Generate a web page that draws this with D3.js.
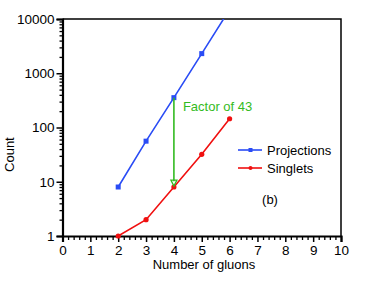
<!DOCTYPE html>
<html>
<head>
<meta charset="utf-8">
<script src="https://cdn.jsdelivr.net/npm/d3@7"></script>
<style>
  body { margin: 0; background: #fff; }
  text { font-family: "Liberation Sans", Arial, sans-serif; }
</style>
</head>
<body>
<div id="chart"></div>
<script>
// Data
var gluons      = [2, 3, 4, 5, 6];
var projections = [8, 56, 355, 2300, 15000];
var singlets    = [1, 2, 8, 32, 145];
var xTicks = [0, 1, 2, 3, 4, 5, 6, 7, 8, 9, 10];
var yTicks = [1, 10, 100, 1000, 10000];
var factorX = 4, factorTop = 355, factorBottom = 8.3;

var width = 374, height = 289;
var margin = {top: 19, right: 33, bottom: 53, left: 62.5};

var svg = d3.select('#chart').append('svg')
    .attr('width', width)
    .attr('height', height);

var x = d3.scaleLinear().domain([0, 10]).range([margin.left, width - margin.right]);
var y = d3.scaleLog().domain([1, 10000]).range([height - margin.bottom, margin.top]);

svg.append('clipPath').attr('id', 'clip')
  .append('rect')
    .attr('x', margin.left).attr('y', margin.top)
    .attr('width', x(10) - x(0)).attr('height', y(1) - y(10000));

// Frame (top and right)
svg.append('path')
    .attr('d', 'M' + x(0) + ',' + y(10000) + 'H' + x(10) + 'V' + y(1))
    .attr('fill', 'none')
    .attr('stroke', '#000')
    .attr('stroke-width', 1.5);

// Y axis with log minor ticks
var yMinor = [];
yTicks.slice(0, -1).forEach(function(d) {
  for (var k = 2; k <= 9; k++) yMinor.push(d * k);
});
var yAxis = svg.append('g').attr('transform', 'translate(' + x(0) + ',0)');
yAxis.append('g')
    .call(d3.axisLeft(y).tickValues(yMinor).tickSize(3).tickFormat(''))
    .call(function(g) { g.select('.domain').remove(); })
    .selectAll('line').attr('stroke-width', 1.3);
yAxis.append('g')
    .call(d3.axisLeft(y).tickValues(yTicks).tickSize(6).tickPadding(2).tickFormat(d3.format('d')))
    .call(function(g) {
      g.select('.domain').attr('stroke-width', 2.2);
      g.selectAll('line').attr('stroke-width', 1.5);
      g.selectAll('text').attr('font-size', 13.5).attr('fill', '#000');
    });

// X axis with minor ticks
var xMinor = d3.range(0, 10.01, 0.2).filter(function(d) { return Math.abs(d - Math.round(d)) > 0.01; });
var xAxis = svg.append('g').attr('transform', 'translate(0,' + y(1) + ')');
xAxis.append('g')
    .call(d3.axisBottom(x).tickValues(xMinor).tickSize(4).tickFormat(''))
    .call(function(g) { g.select('.domain').remove(); })
    .selectAll('line').attr('stroke-width', 1.3);
xAxis.append('g')
    .call(d3.axisBottom(x).tickValues(xTicks).tickSize(6).tickPadding(3).tickFormat(d3.format('d')))
    .call(function(g) {
      g.select('.domain').attr('stroke-width', 2.2);
      g.selectAll('line').attr('stroke-width', 1.5);
      g.selectAll('text').attr('font-size', 13.5).attr('fill', '#000');
    });

// Axis titles
svg.append('text')
    .attr('transform', 'translate(14,' + (y(10) + y(100)) / 2 + ') rotate(-90)')
    .attr('text-anchor', 'middle')
    .attr('font-size', 13)
    .text('Count');
svg.append('text')
    .attr('x', 204)
    .attr('y', 269)
    .attr('text-anchor', 'middle')
    .attr('font-size', 13)
    .text('Number of gluons');

// Series
var line = function(vals) {
  return d3.line()
    .x(function(d, i) { return x(gluons[i]); })
    .y(function(d) { return y(d); })(vals);
};
var plot = svg.append('g').attr('clip-path', 'url(#clip)');

plot.append('path')
    .attr('d', line(projections))
    .attr('fill', 'none')
    .attr('stroke', '#2a4cf5')
    .attr('stroke-width', 1.6);
plot.selectAll('.proj').data(projections).enter().append('rect')
    .attr('x', function(d, i) { return x(gluons[i]) - 2.5; })
    .attr('y', function(d) { return y(d) - 2.5; })
    .attr('width', 5).attr('height', 5)
    .attr('fill', '#2a4cf5');

plot.append('path')
    .attr('d', line(singlets))
    .attr('fill', 'none')
    .attr('stroke', '#f01010')
    .attr('stroke-width', 1.6);
svg.selectAll('.sing').data(singlets).enter().append('circle')
    .attr('cx', function(d, i) { return x(gluons[i]); })
    .attr('cy', function(d) { return y(d); })
    .attr('r', 2.6)
    .attr('fill', '#f01010');

// Factor arrow
var green = '#33bb22';
svg.append('line')
    .attr('x1', x(factorX)).attr('x2', x(factorX))
    .attr('y1', y(factorTop)).attr('y2', y(factorBottom) - 5)
    .attr('stroke', green).attr('stroke-width', 1.6);
var ax = x(factorX), ay = y(factorBottom);
svg.append('path')
    .attr('d', 'M' + (ax - 3) + ',' + (ay - 6) + 'L' + (ax + 3) + ',' + (ay - 6) + 'L' + ax + ',' + ay + 'Z')
    .attr('fill', 'none')
    .attr('stroke', green)
    .attr('stroke-width', 1.3);
svg.append('text')
    .attr('x', x(factorX) + 9)
    .attr('y', 111)
    .attr('font-size', 13)
    .attr('fill', green)
    .text('Factor of 43');

// Legend
var legend = [
  {name: 'Projections', color: '#2a4cf5', shape: 'square'},
  {name: 'Singlets', color: '#f01010', shape: 'circle'}
];
var lg = svg.selectAll('.lg').data(legend).enter().append('g')
    .attr('transform', function(d, i) { return 'translate(238,' + (150 + i * 18) + ')'; });
lg.append('line')
    .attr('x1', 0).attr('x2', 24)
    .attr('stroke', function(d) { return d.color; })
    .attr('stroke-width', 1.6);
lg.filter(function(d) { return d.shape === 'square'; }).append('rect')
    .attr('x', 10.5).attr('y', -2).attr('width', 4).attr('height', 4)
    .attr('fill', function(d) { return d.color; });
lg.filter(function(d) { return d.shape === 'circle'; }).append('circle')
    .attr('cx', 12.5).attr('r', 2)
    .attr('fill', function(d) { return d.color; });
lg.append('text')
    .attr('x', 29).attr('y', 4.5)
    .attr('font-size', 13)
    .text(function(d) { return d.name; });

svg.append('text')
    .attr('x', 270).attr('y', 204)
    .attr('text-anchor', 'middle')
    .attr('font-size', 13)
    .text('(b)');
</script>
</body>
</html>
